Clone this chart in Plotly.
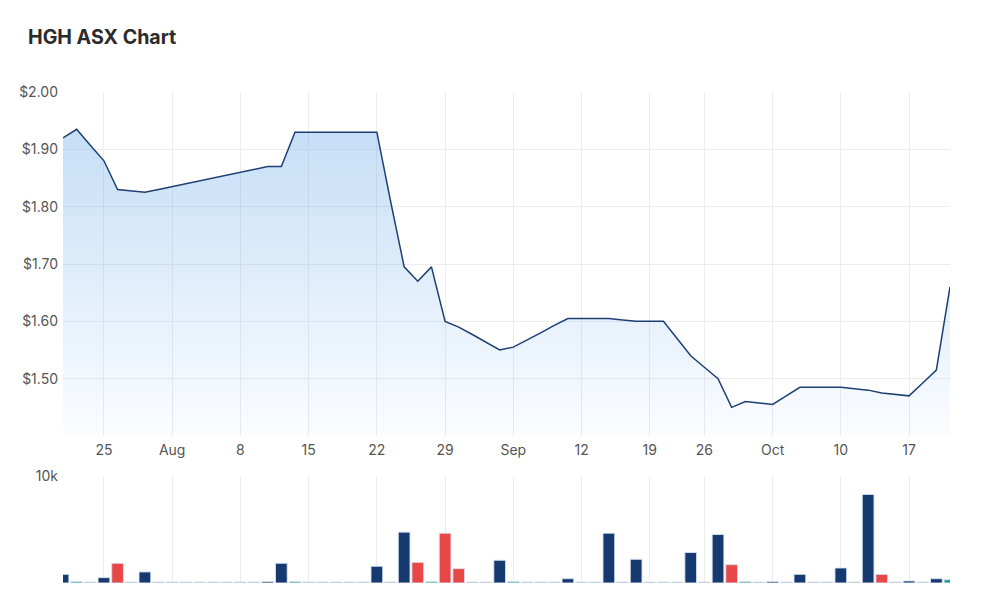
import plotly.graph_objects as go

# Trading days (ASX, 2022) - Jul 20 to Oct 20 (Sep 22 market closed)
dates = [
    "2022-07-20", "2022-07-21", "2022-07-22", "2022-07-25", "2022-07-26", "2022-07-27",
    "2022-07-28", "2022-07-29", "2022-08-01", "2022-08-02", "2022-08-03", "2022-08-04",
    "2022-08-05", "2022-08-08", "2022-08-09", "2022-08-10", "2022-08-11", "2022-08-12",
    "2022-08-15", "2022-08-16", "2022-08-17", "2022-08-18", "2022-08-19", "2022-08-22",
    "2022-08-23", "2022-08-24", "2022-08-25", "2022-08-26", "2022-08-29", "2022-08-30",
    "2022-08-31", "2022-09-01", "2022-09-02", "2022-09-05", "2022-09-06", "2022-09-07",
    "2022-09-08", "2022-09-09", "2022-09-12", "2022-09-13", "2022-09-14", "2022-09-15",
    "2022-09-16", "2022-09-19", "2022-09-20", "2022-09-21", "2022-09-23", "2022-09-26",
    "2022-09-27", "2022-09-28", "2022-09-29", "2022-09-30", "2022-10-03", "2022-10-04",
    "2022-10-05", "2022-10-06", "2022-10-07", "2022-10-10", "2022-10-11", "2022-10-12",
    "2022-10-13", "2022-10-14", "2022-10-17", "2022-10-18", "2022-10-19", "2022-10-20",
]

close = [
    1.920, 1.935, 1.907, 1.880, 1.830, 1.827,
    1.825, 1.830, 1.835, 1.840, 1.845, 1.850,
    1.855, 1.860, 1.865, 1.870, 1.870, 1.930,
    1.930, 1.930, 1.930, 1.930, 1.930, 1.930,
    1.810, 1.695, 1.670, 1.695, 1.600, 1.590,
    1.577, 1.563, 1.550, 1.555, 1.567, 1.580,
    1.593, 1.605, 1.605, 1.605, 1.605, 1.6025,
    1.600, 1.600, 1.600, 1.570, 1.540, 1.520,
    1.500, 1.450, 1.460, 1.4575, 1.455, 1.470,
    1.485, 1.485, 1.485, 1.485, 1.4825, 1.480,
    1.475, 1.4725, 1.470, 1.4925, 1.515, 1.660,
]

volume = [
    810, 120, 90, 500, 1840, 90,
    1030, 90, 90, 90, 90, 90,
    90, 90, 90, 130, 1840, 120,
    90, 90, 90, 90, 90, 1560,
    90, 4740, 1930, 120, 4640, 1340,
    90, 90, 2120, 120, 90, 90,
    90, 400, 90, 90, 4640, 90,
    2210, 90, 90, 90, 2840, 90,
    4520, 1710, 120, 90, 130, 90,
    810, 90, 90, 1400, 90, 8260,
    810, 90, 190, 90, 400, 310,
]

# volume bar class: u = navy, d = red, f = teal, z = negligible
vol_class = [
    "u", "f", "z", "u", "d", "z",
    "u", "z", "z", "z", "z", "z",
    "z", "z", "z", "u", "u", "f",
    "z", "z", "z", "z", "z", "u",
    "z", "u", "d", "f", "d", "d",
    "z", "z", "u", "f", "z", "z",
    "z", "u", "z", "z", "u", "z",
    "u", "z", "z", "z", "u", "z",
    "u", "d", "f", "z", "u", "z",
    "u", "z", "z", "u", "z", "u",
    "d", "z", "u", "z", "u", "f",
]

tick_dates = ["2022-07-25", "2022-08-01", "2022-08-08", "2022-08-15", "2022-08-22",
              "2022-08-29", "2022-09-05", "2022-09-12", "2022-09-19", "2022-09-26",
              "2022-10-03", "2022-10-10", "2022-10-17"]
tick_labels = ["25", "Aug", "8", "15", "22", "29", "Sep", "12", "19", "26", "Oct", "10", "17"]

price_ticks = [1.40, 1.50, 1.60, 1.70, 1.80, 1.90, 2.00]
price_tick_labels = ["", "$1.50", "$1.60", "$1.70", "$1.80", "$1.90", "$2.00"]

colour_map = {"u": "#163a6f", "d": "#e84747", "f": "#1f9e90", "z": "#8e9cb8"}

idx = list(range(len(dates)))
tick_idx = [dates.index(d) for d in tick_dates]

fig = go.Figure()

fig.add_trace(go.Scatter(
    x=idx, y=close, mode="lines",
    line=dict(color="#1e3f73", width=1.5),
    fill="tozeroy",
    fillgradient=dict(
        type="vertical",
        start=1.40, stop=1.95,
        colorscale=[[0, "rgba(124,181,236,0.03)"], [1, "rgba(124,181,236,0.45)"]],
    ),
    hoverinfo="skip", showlegend=False,
    xaxis="x", yaxis="y",
))

fig.add_trace(go.Bar(
    x=idx, y=volume,
    marker=dict(color=[colour_map[c] for c in vol_class],
                line=dict(color="rgba(215,226,242,0.9)", width=1)),
    width=0.86,
    hoverinfo="skip", showlegend=False,
    xaxis="x2", yaxis="y2",
))

grid = "#ececec"
font_tick = dict(family="Inter, Roboto, Arial", size=14, color="#555555")

fig.update_layout(
    width=1000, height=613,
    margin=dict(l=63, r=50, t=92, b=30),
    paper_bgcolor="white", plot_bgcolor="white",
    title=dict(text="<b>HGH ASX Chart</b>", x=0.028, xanchor="left", y=0.939, yanchor="middle",
               font=dict(family="Inter, Roboto, Arial", size=19.6, color="#2b2b2b")),
    xaxis=dict(domain=[0, 1], range=[0, 65], tickvals=tick_idx, ticktext=tick_labels,
               showgrid=True, gridcolor=grid, gridwidth=1, zeroline=False,
               showline=False, ticks="", tickfont=font_tick, anchor="y",
               ticklabelstandoff=4, fixedrange=True),
    yaxis=dict(domain=[0.2994, 1.0], range=[1.40, 2.00], tickvals=price_ticks,
               ticktext=price_tick_labels, showgrid=True, gridcolor=grid, zeroline=False,
               ticks="", tickfont=font_tick, ticklabelstandoff=4),
    xaxis2=dict(domain=[0, 1], range=[0, 65], tickvals=tick_idx, showticklabels=False,
                showgrid=True, gridcolor=grid, zeroline=False, ticks="", anchor="y2"),
    yaxis2=dict(domain=[0, 0.2185], range=[0, 10000], tickvals=[10000], ticktext=["10k"],
                showgrid=True, gridcolor=grid, zeroline=False, ticks="",
                tickfont=font_tick, ticklabelstandoff=4),
    bargap=0.1,
)

fig.write_html("out.html")
